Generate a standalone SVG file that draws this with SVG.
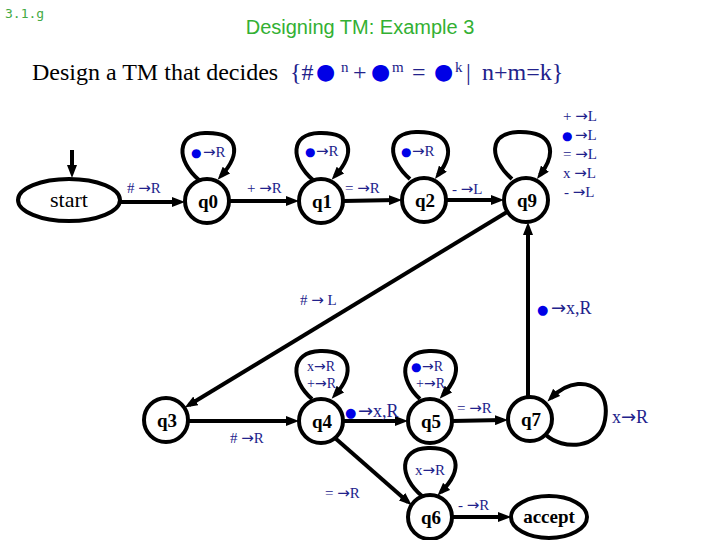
<svg xmlns="http://www.w3.org/2000/svg" width="720" height="540" viewBox="0 0 720 540">
<style>
.node{fill:#fff;stroke:#000;stroke-width:4}
.nl{font-family:"Liberation Serif",serif;font-weight:bold;font-size:19px;fill:#000;text-anchor:middle}
.edge{fill:none;stroke:#000;stroke-width:4;marker-end:url(#ah)}
.lb{font-family:"Liberation Serif",serif;font-size:15px;fill:#22228b}
.lbs{font-family:"Liberation Serif",serif;font-size:14px;fill:#22228b}
.lbb{font-family:"Liberation Serif",serif;font-size:18px;fill:#22228b}
.ar{font-family:"DejaVu Sans",sans-serif;font-size:15px}
.lbs .ar{font-size:14px}
.lbb .ar{font-size:18px}
.dot{font-family:"DejaVu Sans",sans-serif;fill:#0000e6;font-size:12px}
.lbb .dot{font-size:13px}
.tdot{font-family:"DejaVu Sans",sans-serif;fill:#0000e6;font-size:22px}
.sup{font-size:15px}
</style>
<defs>
<marker id="ah" viewBox="0 0 13 10" refX="8" refY="5" markerWidth="13" markerHeight="10" markerUnits="userSpaceOnUse" orient="auto"><path d="M0,0 L13,5 L0,10 z" fill="#000"/></marker>
</defs>
<rect width="720" height="540" fill="#fff"/>
<g id="header">
<text x="5" y="18" font-family="DejaVu Sans Mono,monospace" font-size="13" fill="#44aa44">3.1.g</text>
<text x="360" y="34" font-family="Liberation Sans,sans-serif" font-size="20" fill="#33b033" text-anchor="middle">Designing TM: Example 3</text>
<text x="32" y="80" font-family="Liberation Serif,serif" font-size="24" fill="#000">Design a TM that decides</text>
<text y="80" font-family="Liberation Serif,serif" font-size="24" fill="#22228b"><tspan x="290">{#</tspan><tspan x="316" y="79" class="tdot">●</tspan><tspan x="341" y="72" class="sup">n</tspan><tspan x="353" y="80">+</tspan><tspan x="371" y="79" class="tdot">●</tspan><tspan x="392" y="72" class="sup">m</tspan><tspan x="412" y="80">=</tspan><tspan x="434" y="79" class="tdot">●</tspan><tspan x="455" y="72" class="sup">k</tspan><tspan x="466" y="80">|</tspan><tspan x="482">n+m=k}</tspan></text>
</g>
<g id="connectors">
<path class="edge" d="M72,150 L72,173"/>
<path class="edge" d="M120,202 L180,202"/>
<path class="edge" d="M229,201 L294,201"/>
<path class="edge" d="M343,201 L397,200"/>
<path class="edge" d="M446,200 L499,200"/>
<path class="edge" d="M507,212 L189,405"/>
<path class="edge" d="M528,397 L528,227"/>
<path class="edge" d="M188,421 L294,421"/>
<path class="edge" d="M343,421 L403,421"/>
<path class="edge" d="M452,421 L503,420"/>
<path class="edge" d="M335,438 L408,502"/>
<path class="edge" d="M452,517 L506,517"/>
<path class="edge" d="M199,180 C176,160 176,134 205,133 C240,132 241,154 221,176"/>
<path class="edge" d="M313,180 C290,160 290,134 319,133 C354,132 355,154 335,176"/>
<path class="edge" d="M410,179 C387,159 386,133 416,132 C452,131 455,153 438,175"/>
<path class="edge" d="M512,179 C489,159 488,133 518,132 C554,131 557,153 540,175"/>
<path class="edge" d="M312,399 C290,380 290,352 320,351 C352,350 355,373 335,395"/>
<path class="edge" d="M420,399 C399,380 399,352 429,351 C461,350 463,373 443,395"/>
<path class="edge" d="M422,496 C399,477 398,449 428,448 C461,447 463,470 441,492"/>
<path class="edge" d="M546,435 C562,450 600,450 605,420 C610,390 590,383 578,384 C566,385 558,391 551,398"/>
<g id="edge-labels">
<text class="lb" x="127" y="193"># <tspan class="ar">→</tspan>R</text>
<text class="lb" x="247" y="193">+ <tspan class="ar">→</tspan>R</text>
<text class="lb" x="345" y="193">= <tspan class="ar">→</tspan>R</text>
<text class="lb" x="452" y="194">- <tspan class="ar">→</tspan>L</text>
<text class="lb" y="157"><tspan class="dot" x="191">●</tspan><tspan class="ar" x="203">→</tspan>R</text>
<text class="lb" y="156"><tspan class="dot" x="305">●</tspan><tspan class="ar" x="316">→</tspan>R</text>
<text class="lb" y="156"><tspan class="dot" x="401">●</tspan><tspan class="ar" x="412">→</tspan>R</text>
<text class="lb" x="563" y="121">+ <tspan class="ar">→</tspan>L</text>
<text class="lb" y="140"><tspan class="dot" x="562">●</tspan><tspan class="ar" x="575">→</tspan>L</text>
<text class="lb" x="563" y="159">= <tspan class="ar">→</tspan>L</text>
<text class="lb" x="563" y="178">x <tspan class="ar">→</tspan>L</text>
<text class="lb" x="564" y="197">- <tspan class="ar">→</tspan>L</text>
<text class="lb" x="300" y="305"># <tspan class="ar">→</tspan> L</text>
<text class="lbb" y="314"><tspan class="dot" x="537">●</tspan><tspan class="ar" x="551">→</tspan>x,R</text>
<text class="lbs" x="307" y="371">x<tspan class="ar">→</tspan>R</text>
<text class="lbs" x="307" y="388">+<tspan class="ar">→</tspan>R</text>
<text class="lbb" y="417"><tspan class="dot" x="345">●</tspan><tspan class="ar" x="358">→</tspan>x,R</text>
<text class="lbs" y="371"><tspan class="dot" x="411">●</tspan><tspan class="ar" x="422">→</tspan>R</text>
<text class="lbs" x="416" y="388">+<tspan class="ar">→</tspan>R</text>
<text class="lb" x="457" y="413">= <tspan class="ar">→</tspan>R</text>
<text class="lbb" x="612" y="423">x<tspan class="ar">→</tspan>R</text>
<text class="lb" x="230" y="443"># <tspan class="ar">→</tspan>R</text>
<text class="lb" x="325" y="498">= <tspan class="ar">→</tspan>R</text>
<text class="lb" x="415" y="475">x<tspan class="ar">→</tspan>R</text>
<text class="lb" x="458" y="510">- <tspan class="ar">→</tspan>R</text>
</g>
</g>
<g id="start"><ellipse class="node" cx="69" cy="200" rx="51" ry="21"/><text x="69" y="207" font-family="Liberation Serif,serif" font-size="22" text-anchor="middle">start</text></g>
<g id="q0"><circle class="node" cx="207" cy="201" r="22"/><text class="nl" x="208" y="208">q0</text></g>
<g id="q1"><circle class="node" cx="321" cy="201" r="22"/><text class="nl" x="322" y="208">q1</text></g>
<g id="q2"><circle class="node" cx="424" cy="200" r="22"/><text class="nl" x="425" y="207">q2</text></g>
<g id="q9"><circle class="node" cx="526" cy="200" r="22"/><text class="nl" x="527" y="207">q9</text></g>
<g id="q3"><circle class="node" cx="166" cy="420" r="22"/><text class="nl" x="167" y="427">q3</text></g>
<g id="q4"><circle class="node" cx="321" cy="421" r="22"/><text class="nl" x="322" y="428">q4</text></g>
<g id="q5"><circle class="node" cx="430" cy="421" r="22"/><text class="nl" x="431" y="428">q5</text></g>
<g id="q7"><circle class="node" cx="530" cy="419" r="22"/><text class="nl" x="531" y="426">q7</text></g>
<g id="q6"><circle class="node" cx="430" cy="517" r="22"/><text class="nl" x="431" y="524">q6</text></g>
<g id="accept"><ellipse class="node" cx="549" cy="517" rx="38" ry="21"/><text class="nl" x="549" y="523">accept</text></g>
</svg>
